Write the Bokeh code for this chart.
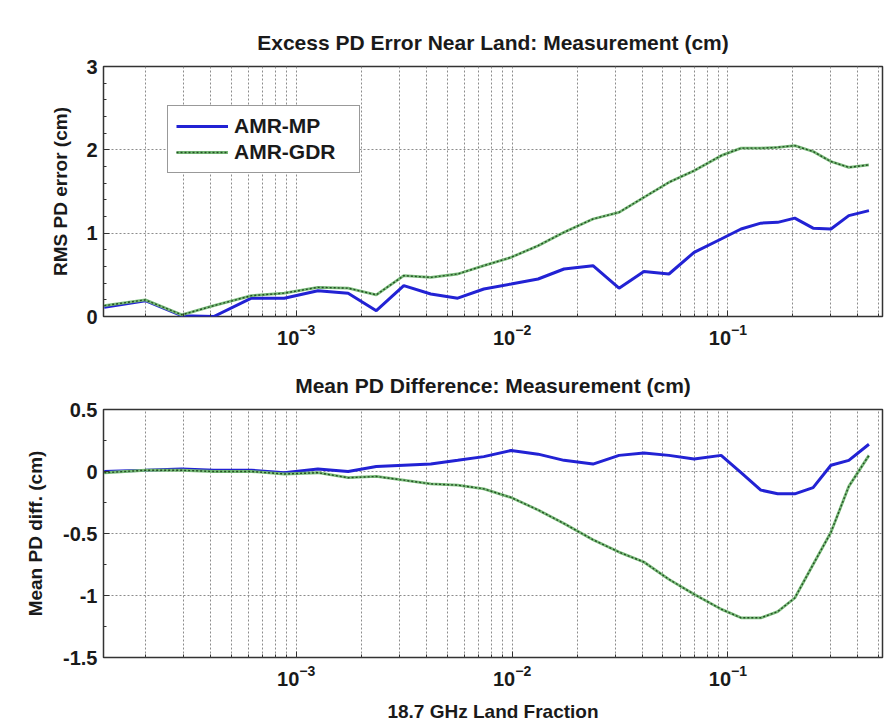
from bokeh.plotting import figure
from bokeh.layouts import column
from bokeh.models import (Range1d, FixedTicker, SingleIntervalTicker,
                          Legend, LegendItem)
from bokeh.embed import file_html
from bokeh.resources import INLINE

# ---------------- data ----------------
land_fraction = [1.29e-4, 2.0e-4, 2.95e-4, 4.15e-4, 6.2e-4, 8.8e-4, 1.26e-3, 1.74e-3,
                 2.35e-3, 3.15e-3, 4.2e-3, 5.6e-3, 7.4e-3, 9.9e-3, 1.32e-2, 1.74e-2,
                 2.37e-2, 3.13e-2, 4.08e-2, 5.33e-2, 6.97e-2, 9.3e-2, 0.115, 0.142,
                 0.170, 0.204, 0.248, 0.300, 0.363, 0.450]

mp_rms = [0.11, 0.19, 0.01, 0.00, 0.22, 0.22, 0.31, 0.28, 0.07, 0.37, 0.27, 0.22, 0.33,
          0.39, 0.45, 0.57, 0.61, 0.34, 0.54, 0.51, 0.77, 0.93, 1.05, 1.12, 1.13, 1.18,
          1.06, 1.05, 1.21, 1.27]
gdr_rms = [0.13, 0.20, 0.02, 0.13, 0.25, 0.28, 0.35, 0.34, 0.26, 0.49, 0.47, 0.51, 0.61,
           0.71, 0.85, 1.01, 1.17, 1.25, 1.43, 1.61, 1.75, 1.93, 2.02, 2.02, 2.03, 2.05,
           1.98, 1.86, 1.79, 1.82]

mp_mean = [0.00, 0.01, 0.02, 0.01, 0.01, -0.01, 0.02, 0.00, 0.04, 0.05, 0.06, 0.09, 0.12,
           0.17, 0.14, 0.09, 0.06, 0.13, 0.15, 0.13, 0.10, 0.13, -0.01, -0.15, -0.18,
           -0.18, -0.13, 0.05, 0.09, 0.22]
gdr_mean = [-0.01, 0.01, 0.01, 0.00, 0.00, -0.02, -0.01, -0.05, -0.04, -0.07, -0.10, -0.11,
            -0.14, -0.21, -0.31, -0.42, -0.55, -0.65, -0.73, -0.87, -0.99, -1.11, -1.18,
            -1.18, -1.13, -1.02, -0.75, -0.49, -0.12, 0.13]

x_major_ticks = [1e-3, 1e-2, 1e-1]
x_minor_ticks = [k * 10.0 ** e for e in (-4, -3, -2, -1) for k in range(2, 10)]
series_names = ["AMR-MP", "AMR-GDR"]

FONT = "Liberation Sans"
TXT = "#1a1a1a"
BLUE = "#2222d4"
GREEN_BASE = "#79bb79"
GREEN_DOT = "#244f24"
GRID = "#8c8c8c"


def style(p, yticker, label_standoff):
    p.title.text_font = FONT
    p.title.text_font_size = "21px"
    p.title.text_font_style = "bold"
    p.title.align = "center"
    p.title.text_color = TXT
    p.title.standoff = 26
    p.outline_line_color = "#333333"
    p.outline_line_width = 1.5
    p.background_fill_color = "white"
    p.border_fill_color = "white"

    xa = p.xaxis[0]
    xa.ticker = FixedTicker(ticks=x_major_ticks, minor_ticks=x_minor_ticks)
    ya = p.yaxis[0]
    ya.ticker = yticker
    for ax in (xa, ya):
        ax.axis_line_color = None
        ax.major_tick_in = 6
        ax.major_tick_out = 0
        ax.minor_tick_in = 3
        ax.minor_tick_out = 0
        ax.major_tick_line_color = "#333333"
        ax.minor_tick_line_color = "#333333"
        ax.major_label_text_font = FONT
        ax.major_label_text_font_size = "20px"
        ax.major_label_text_font_style = "bold"
        ax.major_label_text_color = TXT
        ax.axis_label_text_font = FONT
        ax.axis_label_text_font_size = "19px"
        ax.axis_label_text_font_style = "bold"
        ax.axis_label_text_color = TXT
    xa.major_label_standoff = 7
    ya.major_label_standoff = 6
    ya.axis_label_standoff = label_standoff

    p.xgrid.grid_line_color = GRID
    p.xgrid.grid_line_dash = "2 2"
    p.xgrid.minor_grid_line_color = GRID
    p.xgrid.minor_grid_line_dash = "2 2"
    p.ygrid.grid_line_color = GRID
    p.ygrid.grid_line_dash = "2 2"


def draw(p, mp, gdr):
    b = p.line(land_fraction, mp, line_color=BLUE, line_width=3)
    g1 = p.line(land_fraction, gdr, line_color=GREEN_BASE, line_width=2.8)
    g2 = p.line(land_fraction, gdr, line_color=GREEN_DOT, line_width=1.4, line_dash="2 2")
    return b, g1, g2


x_range = Range1d(1.28e-4, 0.52)

p1 = figure(x_axis_type="log", x_range=x_range, y_range=Range1d(0, 3),
            frame_width=779, frame_height=250, min_border_left=103, min_border_right=14,
            min_border_top=66, min_border_bottom=34,
            title="Excess PD Error Near Land: Measurement (cm)",
            y_axis_label="RMS PD error (cm)",
            output_backend="svg", toolbar_location=None)
style(p1, SingleIntervalTicker(interval=1, num_minor_ticks=5), 12)
b1, g1a, g1b = draw(p1, mp_rms, gdr_rms)

legend = Legend(items=[LegendItem(label=series_names[0], renderers=[b1]),
                       LegendItem(label=series_names[1], renderers=[g1a, g1b])],
                location=(64, 143))
legend.label_text_font = FONT
legend.label_text_font_size = "21px"
legend.label_text_font_style = "bold"
legend.label_text_color = TXT
legend.glyph_width = 52
legend.label_width = 117
legend.label_standoff = 6
legend.spacing = 2
legend.padding = 8
legend.border_line_color = "#333333"
legend.border_line_width = 1.5
legend.background_fill_color = "white"
legend.background_fill_alpha = 1.0
p1.add_layout(legend, "center")

p2 = figure(x_axis_type="log", x_range=x_range, y_range=Range1d(-1.5, 0.5),
            frame_width=779, frame_height=248, min_border_left=103, min_border_right=14,
            min_border_top=59, min_border_bottom=71,
            title="Mean PD Difference: Measurement (cm)",
            y_axis_label="Mean PD diff. (cm)",
            x_axis_label="18.7 GHz Land Fraction",
            output_backend="svg", toolbar_location=None)
style(p2, SingleIntervalTicker(interval=0.5, num_minor_ticks=2), 14)
p2.yaxis[0].major_label_overrides = {0.5: "0.5", 0: "0", -0.5: "-0.5", -1: "-1", -1.5: "-1.5"}
p2.xaxis[0].axis_label_standoff = 12
draw(p2, mp_mean, gdr_mean)

layout = column(p1, p2, spacing=0)
open("out.html", "w").write(file_html(layout, INLINE))
